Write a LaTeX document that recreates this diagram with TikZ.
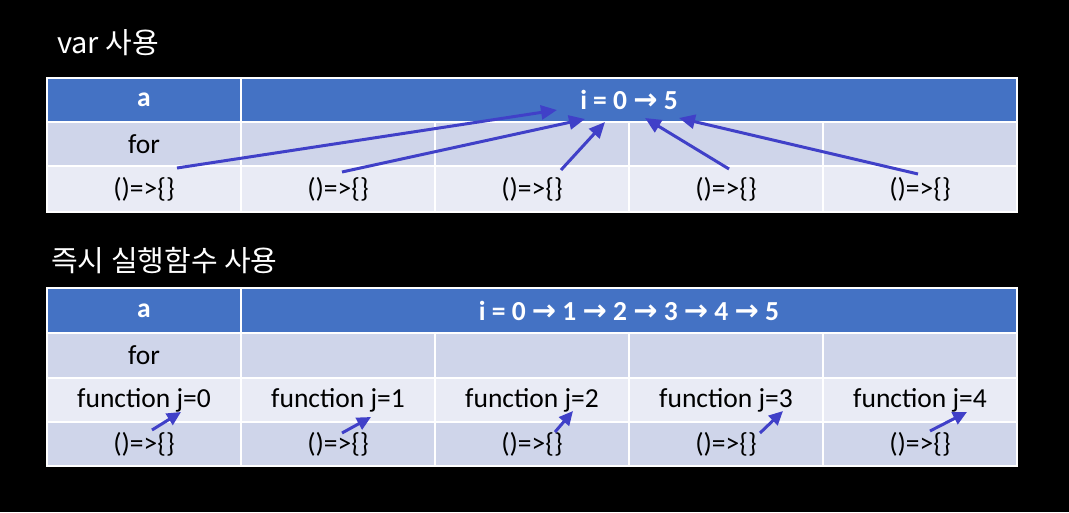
\documentclass[tikz,border=0pt]{standalone}
\usepackage{fontspec}
\setmainfont{Carlito}
\newfontfamily\korfont{Noto Sans CJK KR}
\newfontfamily\arrfont{DejaVu Sans}
\usetikzlibrary{arrows.meta}
\definecolor{hdr}{HTML}{4472C4}
\definecolor{rowA}{HTML}{CFD5EA}
\definecolor{rowB}{HTML}{E9EBF5}
\definecolor{arw}{RGB}{64,64,200}
\newcommand{\myarr}{{\arrfont\bfseries\fontsize{29}{30}\selectfont →}}
\begin{document}
\begin{tikzpicture}[x=1pt,y=-1pt,
  cell/.style={draw=white, line width=1.6pt, inner sep=0pt, minimum width=194pt,
    font=\fontsize{27.5}{32}\selectfont, text=black},
  hcell/.style={cell, fill=hdr, text=white, font=\fontsize{27.5}{32}\selectfont\bfseries},
  title/.style={anchor=west, text=white, inner sep=0pt, font=\korfont\fontsize{29}{34}\selectfont},
  link/.style={draw=arw, line width=3pt, -{Triangle[length=16pt,width=14pt]}},
  slink/.style={draw=arw, line width=3pt, -{Triangle[length=14pt,width=13pt]}}]
\fill[black] (0,0) rectangle (1069,512);
\useasboundingbox (0,0) rectangle (1069,512);

% ---- titles
\node[title] (t1) at (57,43) {var 사용};
\node[title] (t2) at (51,261) {즉시 실행함수 사용};

% ---- table 1
\node[hcell, minimum height=44pt] (h1a) at (144,100) {a};
\node[hcell, minimum height=44pt, minimum width=776pt] (h1i) at (629,100) {i = 0 \myarr{} 5};
\foreach \c/\x in {1/144,2/338,3/532,4/726,5/920}{
  \node[cell, fill=rowA, minimum height=44pt] (f1\c) at (\x,144) {};
  \node[cell, fill=rowB, minimum height=46pt] (g1\c) at (\x,189) {()=>\{\}};
}
\node[font=\fontsize{27.5}{32}\selectfont] (for1) at (f11) {for};

% arrows table 1
\coordinate (s1) at (177,168); \coordinate (e1) at (557,110);
\coordinate (s2) at (342,172); \coordinate (e2) at (585,119);
\coordinate (s3) at (561,170); \coordinate (e3) at (605,122);
\coordinate (s4) at (729,169); \coordinate (e4) at (645,118);
\coordinate (s5) at (918,174); \coordinate (e5) at (679,118);
\foreach \i in {1,...,5}{ \draw[link] (s\i) -- (e\i); }

% ---- table 2
\node[hcell, minimum height=45pt] (h2a) at (144,310.5) {a};
\node[hcell, minimum height=45pt, minimum width=776pt] (h2i) at (629,310.5)
  {i = 0 \myarr{} 1 \myarr{} 2 \myarr{} 3 \myarr{} 4 \myarr{} 5};
\foreach \c/\x in {1/144,2/338,3/532,4/726,5/920}{
  \node[cell, fill=rowA, minimum height=45pt] (f2\c) at (\x,355.5) {};
  \node[cell, fill=rowA, minimum height=44pt] (k2\c) at (\x,444) {()=>\{\}};
}
\foreach \c/\x/\j in {1/144/0,2/338/1,3/532/2,4/726/3,5/920/4}{
  \node[cell, fill=rowB, minimum height=44pt] (j2\c) at (\x,400) {function j=\j};
}
\node[font=\fontsize{27.5}{32}\selectfont] (for2) at (f21) {for};

% arrows table 2
\coordinate (p1) at (152,430); \coordinate (q1) at (181,412);
\coordinate (p2) at (342,433); \coordinate (q2) at (371,417);
\coordinate (p3) at (555,432); \coordinate (q3) at (573,411);
\coordinate (p4) at (760,433); \coordinate (q4) at (783,411);
\coordinate (p5) at (930,431); \coordinate (q5) at (967,412);
\foreach \i in {1,...,5}{ \draw[slink] (p\i) -- (q\i); }
\end{tikzpicture}
\end{document}
